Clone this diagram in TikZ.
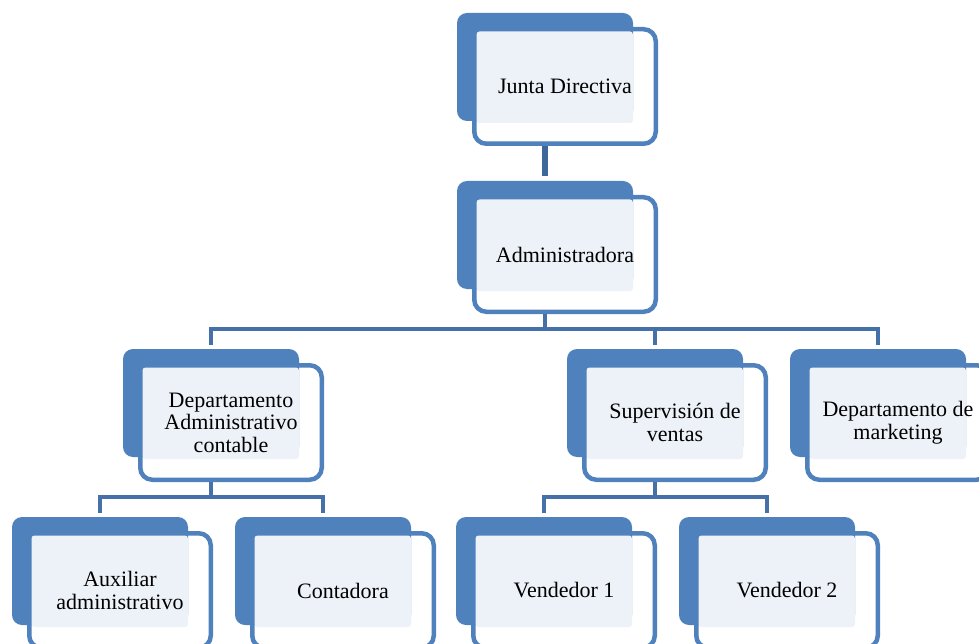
\documentclass[tikz,border=0pt]{standalone}
\usepackage{fontspec}
\setmainfont{Liberation Serif}
\definecolor{darkblue}{HTML}{4F81BD}
\definecolor{bordblue}{HTML}{4F81BD}
\definecolor{connblue}{HTML}{4571A8}
\definecolor{conndark}{HTML}{3E6899}
\definecolor{lightfill}{HTML}{EDF1F8}
\tikzset{
  outlinebox/.style={draw=bordblue, line width=4.5pt, fill=white, rounded corners=12pt,
    minimum width=181.5pt, minimum height=114.5pt, inner sep=0pt},
  darkbox/.style={fill=darkblue, rounded corners=10pt, minimum width=176pt,
    minimum height=108pt, inner sep=0pt},
  txt/.style={align=center, inner sep=0pt, font=\fontsize{22}{22.5}\selectfont},
  conn/.style={draw=connblue, line width=4pt},
}
\newcommand\orgbox[4]{%
  \node[outlinebox] (#1-o) at (#2+108,#3+73.5) {};
  \node[darkbox] (#1-b) at (#2+88,#3+54) {};
  \fill[lightfill, rounded corners=3pt] (#2+19.5,#3+18.5) rectangle (#2+176,#3+110);
  \node[txt] (#1) at (#1-o.center) {#4};
}
\begin{document}
\begin{tikzpicture}[x=1pt,y=-1pt]
\useasboundingbox (0,0) rectangle (979,644);
\clip (0,0) rectangle (979,644);
\orgbox{jd}{457}{13}{Junta Directiva}
\orgbox{ad}{457}{181}{Administradora}
\orgbox{dac}{123}{349}{Departamento\\Administrativo\\contable}
\orgbox{sv}{567}{349}{Supervisión de\\ventas}
\orgbox{mk}{790}{349}{Departamento de\\marketing}
\orgbox{aux}{12}{517}{Auxiliar\\administrativo}
\orgbox{con}{235}{517}{Contadora}
\orgbox{v1}{456}{517}{Vendedor 1}
\orgbox{v2}{679}{517}{Vendedor 2}
\coordinate (bar1) at (0,329);
\coordinate (bar2) at (0,497);
\draw[conn, draw=conndark, line width=5.5pt, shorten >=5pt] (jd-b.south |- jd-o.south) -- (ad-b.north);
\draw[conn] (ad-b.south |- ad-o.south) -- (ad-b.south |- bar1);
\draw[conn, shorten <=4pt, shorten >=4pt] (dac-b.north) -- (dac-b.north |- bar1) -- (mk-b.north |- bar1) -- (mk-b.north);
\draw[conn, shorten <=4pt] (sv-b.north) -- (sv-b.north |- bar1);
\draw[conn] (dac-b.south |- dac-o.south) -- (dac-b.south |- bar2);
\draw[conn, shorten <=4pt, shorten >=4pt] (aux-b.north) -- (aux-b.north |- bar2) -- (con-b.north |- bar2) -- (con-b.north);
\draw[conn] (sv-b.south |- sv-o.south) -- (sv-b.south |- bar2);
\draw[conn, shorten <=4pt, shorten >=4pt] (v1-b.north) -- (v1-b.north |- bar2) -- (v2-b.north |- bar2) -- (v2-b.north);
\end{tikzpicture}
\end{document}
